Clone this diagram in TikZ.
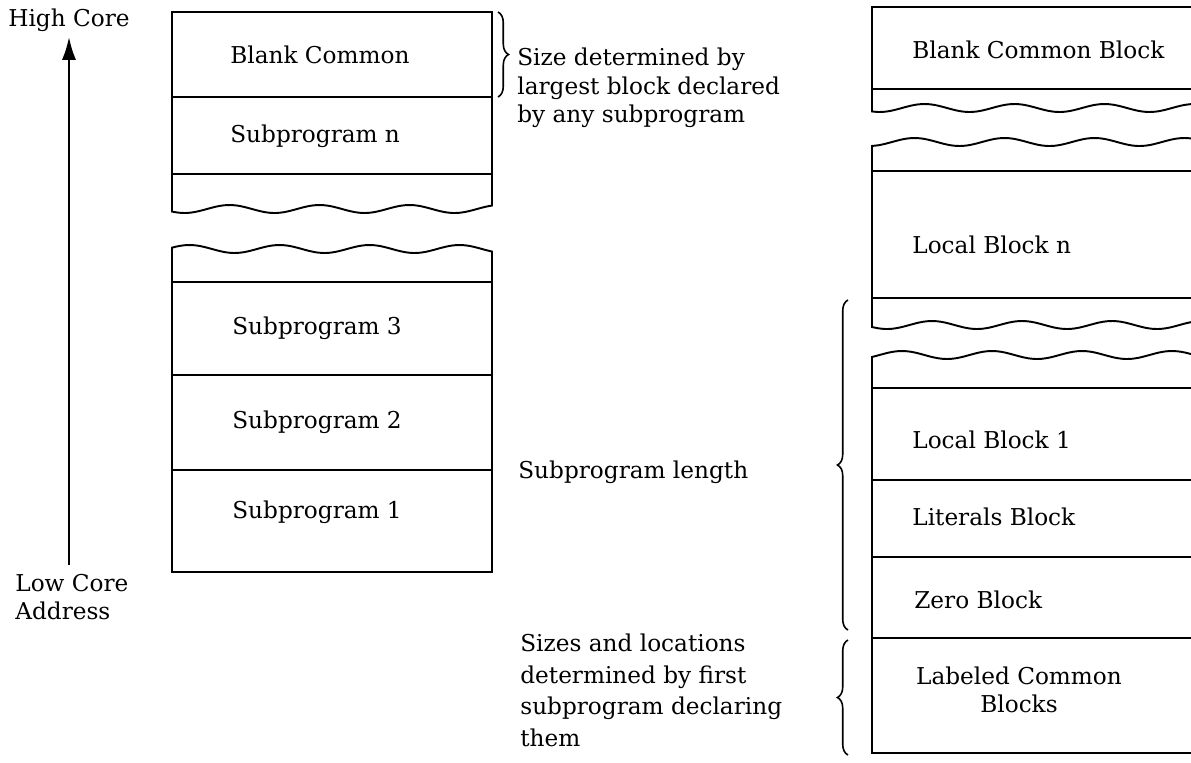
\documentclass[tikz,border=0pt]{standalone}
\usepackage{fontspec}
\setmainfont{DejaVu Serif}
\usetikzlibrary{arrows.meta,decorations.pathreplacing}

\tikzset{
  blocktext/.style={anchor=west,inner sep=0pt},
  notetext/.style={anchor=north west,align=left,inner sep=0pt},
  memline/.style={line width=1.1pt},
  sidebrace/.style={decorate,decoration={brace,amplitude=6pt},line width=0.9pt},
  tear/.style={domain=#1,samples=50,smooth}
}

\begin{document}
\begin{tikzpicture}[x=0.02cm,y=-0.02cm,>=Latex,font=\fontsize{13.2}{16}\selectfont]
  \useasboundingbox (0,0) rectangle (1191,762);

  % address direction
  \coordinate (lowend) at (69,565);
  \coordinate (highend) at (69,37);
  \node[blocktext] (highcore) at (8,20) {High Core};
  \node[notetext] (lowcore) at (15,574) {Low Core\\Address};
  \draw[line width=1.2pt,-{Latex[length=13pt,width=8pt]}] (lowend) -- (highend);

  % left column: loaded program
  \draw[memline] (492,12) -- (172,12)
    -- plot[tear=172:492] (\x,{209+4*sin(4*(\x-172)+40)}) -- cycle;
  \draw[memline] (172,97) -- (492,97);
  \draw[memline] (172,174) -- (492,174);
  \draw[memline] (172,572)
    -- plot[tear=172:492] (\x,{249+4*sin(4*(\x-172)+200)}) -- (492,572) -- cycle;
  \draw[memline] (172,282) -- (492,282);
  \draw[memline] (172,375) -- (492,375);
  \draw[memline] (172,470) -- (492,470);

  \node[blocktext] (blankcommon) at (230,55) {Blank Common};
  \node[blocktext] (subn) at (230,136) {Subprogram n};
  \node[blocktext] (sub3) at (232,328) {Subprogram 3};
  \node[blocktext] (sub2) at (232,422) {Subprogram 2};
  \node[blocktext] (sub1) at (232,512) {Subprogram 1};

  % notes in the middle
  \draw[sidebrace] (498,12) -- (498,97);
  \node[notetext] (sizenote) at (517,48) {Size determined by\\largest block declared\\by any subprogram};
  \node[blocktext] (lengthnote) at (518,472) {Subprogram length};
  \node[notetext,font=\fontsize{13.2}{17.9}\selectfont] (locnote) at (520,634) {Sizes and locations\\determined by first\\subprogram declaring\\them};

  % right column: one subprogram in detail
  \draw[memline] (1191,7) -- (872,7)
    -- plot[tear=872:1191] (\x,{108+4*sin(4*(\x-872)+60)});
  \draw[memline] (872,89) -- (1191,89);
  \draw[memline] plot[tear=1191:872] (\x,{142+4*sin(4*(\x-872)+100)})
    -- plot[tear=872:1191] (\x,{325+4*sin(4*(\x-872)+30)});
  \draw[memline] (872,171) -- (1191,171);
  \draw[memline] (872,298) -- (1191,298);
  \draw[memline] (1191,753) -- (872,753)
    -- plot[tear=872:1191] (\x,{355+4*sin(4*(\x-872)+150)});
  \draw[memline] (872,388) -- (1191,388);
  \draw[memline] (872,480) -- (1191,480);
  \draw[memline] (872,557) -- (1191,557);
  \draw[memline] (872,638) -- (1191,638);

  \node[blocktext] (blankblock) at (912,50) {Blank Common Block};
  \node[blocktext] (localn) at (912,245) {Local Block n};
  \node[blocktext] (local1) at (912,440) {Local Block 1};
  \node[blocktext] (literals) at (912,517) {Literals Block};
  \node[blocktext] (zero) at (914,600) {Zero Block};
  \node[align=center,inner sep=0pt] (labeled) at (1019,690) {Labeled Common\\Blocks};

  \draw[sidebrace] (848,630) -- (848,300);
  \draw[sidebrace] (848,755) -- (848,640);
\end{tikzpicture}
\end{document}
